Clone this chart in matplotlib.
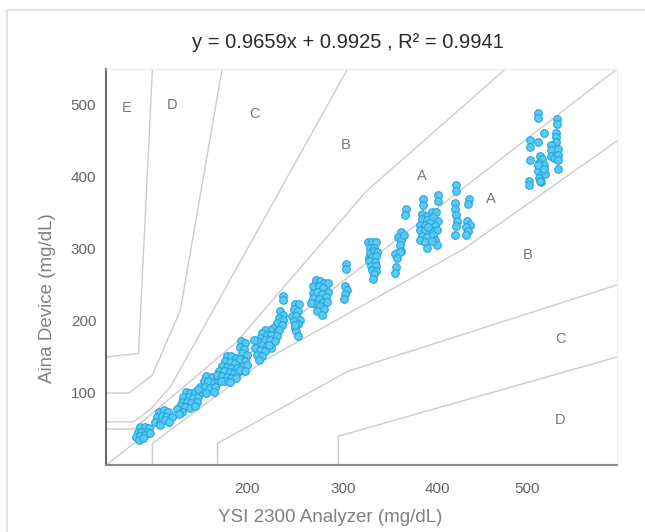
import matplotlib
matplotlib.use("Agg")
import matplotlib.pyplot as plt
from matplotlib.patches import Rectangle

# measured pairs: YSI 2300 reference vs Aina device (mg/dL)
ysi = [
    37, 42, 46, 34, 38, 44, 32, 37, 42, 47, 36, 40,
    57, 62, 67, 55, 60, 65, 71, 53, 58, 64, 68, 58,
    86, 90, 96, 83, 89, 94, 99, 82, 87, 92, 98, 80, 85, 90, 76, 82, 79, 96,
    108, 114, 119, 105, 110, 116, 121, 101, 107, 112, 117, 103, 108, 116, 99,
    130, 135, 140, 128, 134, 139, 125, 130, 135, 141, 122, 127, 133, 138, 142,
    119, 125, 130, 135, 140, 128, 134, 124,
    145, 150, 144, 149, 146, 152, 144, 150, 147, 152, 144, 150,
    187, 190, 186, 191, 184, 189, 180, 186, 177, 171, 168, 173, 178, 184, 166,
    171, 177, 182, 162, 168, 173, 178, 160, 166, 171, 162, 168, 165, 159, 175,
    190, 191,
    203, 208, 202, 207, 200, 205, 209, 202, 207, 203, 205, 207, 203,
    226, 230, 235, 239, 223, 229, 234, 239, 223, 227, 232, 237, 223, 229, 234,
    225, 230, 235, 227, 232, 221, 238,
    258, 258, 257, 259, 257, 256,
    282, 286, 291, 284, 288, 291, 286, 283, 284, 288, 292, 286, 291, 283, 289,
    285, 291, 286, 291, 288, 287,
    323, 322, 317, 314, 318, 316, 321, 313, 317, 311, 316, 313, 312, 311,
    340, 345, 340, 346, 351, 355, 352, 357, 338, 343, 349, 354, 338, 343, 351,
    356, 340, 345, 352, 338, 343, 354, 345, 356, 351, 347, 341, 341, 357, 357,
    377, 377, 376, 376, 377, 378, 377, 376,
    391, 390, 389, 392, 388, 390, 388,
    465, 465, 471, 456, 456, 465, 456, 485, 485, 484, 484, 484, 479, 479, 479,
    482, 487, 487, 487, 486, 467, 469, 466, 471, 468, 465, 469, 473, 466, 468,
    455, 455, 465, 471, 467,
]
aina = [
    53, 53, 51, 46, 46, 46, 39, 40, 42, 44, 35, 37,
    74, 76, 73, 67, 68, 66, 67, 60, 59, 62, 60, 56,
    102, 100, 101, 95, 94, 93, 95, 88, 87, 86, 88, 82, 81, 79, 78, 74, 71, 82,
    124, 122, 121, 117, 116, 114, 115, 109, 108, 107, 108, 102, 100, 102, 105,
    151, 152, 149, 144, 143, 142, 138, 136, 135, 135, 131, 130, 129, 128, 129,
    125, 123, 122, 121, 121, 116, 115, 117,
    172, 169, 164, 161, 156, 153, 147, 144, 137, 139, 132, 130,
    214, 209, 204, 202, 197, 195, 190, 188, 188, 188, 183, 181, 181, 179, 177,
    174, 174, 172, 172, 167, 165, 163, 163, 160, 158, 153, 151, 146, 174, 167,
    235, 229,
    224, 223, 216, 214, 207, 207, 202, 200, 196, 190, 186, 179, 195,
    257, 255, 253, 253, 248, 248, 246, 240, 239, 240, 237, 234, 232, 230, 227,
    223, 221, 217, 214, 209, 225, 227,
    279, 272, 248, 243, 237, 230,
    310, 310, 310, 302, 302, 295, 295, 288, 295, 297, 296, 289, 290, 283, 282,
    277, 277, 271, 269, 265, 259,
    355, 347, 323, 316, 313, 306, 319, 295, 297, 293, 296, 288, 275, 267,
    348, 346, 341, 340, 351, 351, 344, 339, 334, 334, 336, 332, 327, 326, 325,
    326, 318, 317, 320, 313, 310, 313, 302, 306, 311, 330, 369, 361, 375, 367,
    389, 381, 364, 355, 347, 339, 332, 320,
    370, 362, 339, 334, 330, 325, 320,
    489, 482, 461, 452, 441, 449, 423, 481, 473, 461, 455, 449, 444, 438, 429,
    427, 439, 430, 424, 411, 429, 425, 420, 416, 411, 409, 404, 404, 399, 393,
    395, 389, 416, 411, 395,
]

# Parkes consensus error grid (type 1) boundaries
grid_lines = [
    [(0, 0), (550, 550)],
    [(0, 50), (30, 50), (140, 170), (280, 380), (430, 550)],
    [(50, 0), (50, 30), (170, 145), (385, 300), (550, 450)],
    [(0, 60), (30, 60), (50, 80), (70, 110), (260, 550)],
    [(120, 0), (120, 30), (260, 130), (550, 250)],
    [(0, 100), (25, 100), (50, 125), (80, 215), (125, 550)],
    [(250, 0), (250, 40), (550, 150)],
    [(0, 150), (35, 155), (50, 550)],
]
zone_names = ["E", "D", "C", "B", "A", "A", "B", "C", "D"]
zone_x = [22, 71, 160, 258, 340, 414, 454, 489, 489]
zone_y = [496, 500, 487, 444, 401, 370, 291, 175, 63]

y_ticks = [100, 200, 300, 400, 500]
x_tick_labels = ["200", "300", "400", "500"]
x_tick_pos = [152, 255, 357, 453]

plt.rcParams["font.family"] = ["Liberation Sans", "DejaVu Sans"]

fig = plt.figure(figsize=(6.45, 5.32), dpi=100)
fig.patches.append(Rectangle((7 / 645, -0.1), 1.2, 1 - 9.5 / 532 + 0.1,
                             transform=fig.transFigure, fill=False,
                             edgecolor="#e4e4e4", linewidth=1.5))
ax = fig.add_axes([106 / 645, 67 / 532, 511 / 645, 396 / 532])

for line in grid_lines:
    xs, ys = zip(*line)
    ax.plot(xs, ys, color="#cccccc", linewidth=1.0, zorder=1)

for name, zx, zy in zip(zone_names, zone_x, zone_y):
    ax.text(zx, zy, name, ha="center", va="center", fontsize=10.5,
            color="#777777", zorder=2)

ax.scatter(ysi, aina, s=30, facecolor="#5cc9f2", edgecolor="#22a8e0",
           linewidth=0.8, zorder=3)

ax.set_xlim(0, 550)
ax.set_ylim(0, 550)
ax.set_xticks(x_tick_pos)
ax.set_xticklabels(x_tick_labels)
ax.set_yticks(y_ticks)
ax.tick_params(length=0, labelsize=11, labelcolor="#666666")
ax.tick_params(axis="x", pad=12)
ax.tick_params(axis="y", pad=7)

ax.spines["left"].set_color("#6a6a6a")
ax.spines["left"].set_linewidth(1.5)
ax.spines["bottom"].set_color("#8a8a8a")
ax.spines["bottom"].set_linewidth(1.5)
for side in ["top", "right"]:
    ax.spines[side].set_color("#eeeeee")
    ax.spines[side].set_linewidth(1.0)

fig.text(348 / 645, 1 - 43 / 532, "y = 0.9659x + 0.9925 , R\u00b2 = 0.9941",
         ha="center", va="center", fontsize=14.5, color="#2a2a2a")
fig.text(330 / 645, 1 - 518 / 532, "YSI 2300 Analyzer (mg/dL)",
         ha="center", va="center", fontsize=13.5, color="#808080")
fig.text(48 / 645, 1 - 298 / 532, "Aina Device (mg/dL)", rotation=90,
         ha="center", va="center", fontsize=13.5, color="#808080")

fig.savefig("out.png", dpi=100)
